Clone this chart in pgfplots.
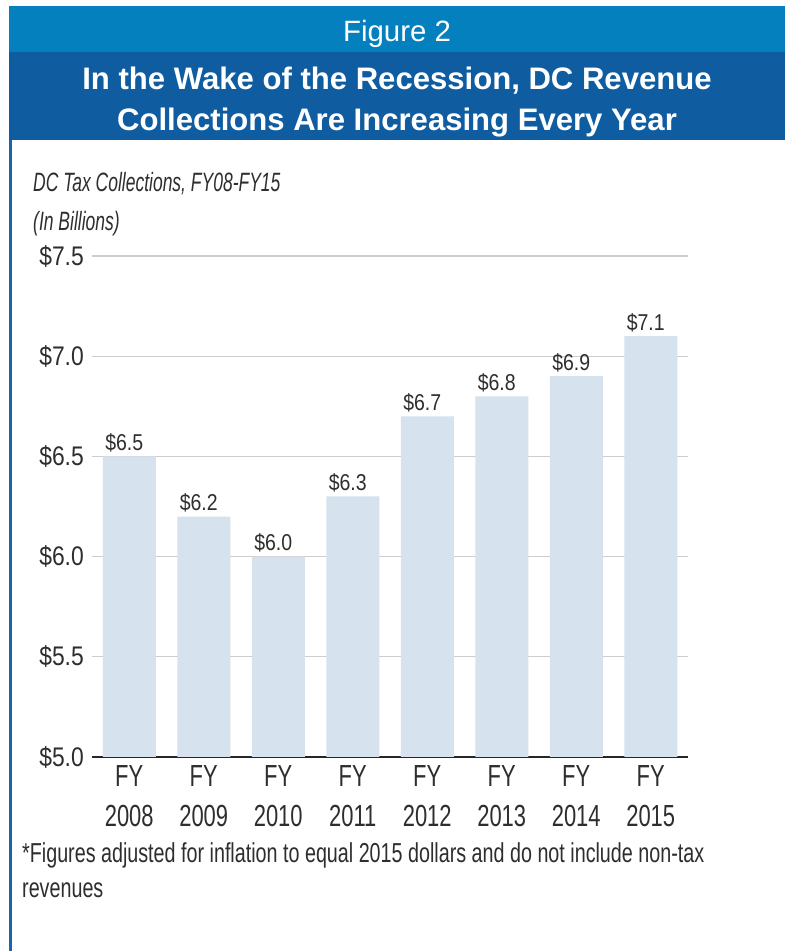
\documentclass[border=0pt]{standalone}
\usepackage{fontspec}
\usepackage{pgfplots}
\pgfplotsset{compat=1.18}
\newfontfamily\headfont{Liberation Sans}
\newfontfamily\chartfont[FakeStretch=0.72]{Liberation Sans}
\newfontfamily\titlefont[FakeStretch=0.66]{Liberation Sans}
\newfontfamily\numfont[FakeStretch=0.85]{Liberation Sans}
\definecolor{bandlight}{HTML}{0580BE}
\definecolor{banddark}{HTML}{0F5DA0}
\definecolor{borderc}{HTML}{1A63AE}
\definecolor{barfill}{HTML}{D6E2EE}
\definecolor{gridc}{HTML}{CDCDCD}
\definecolor{txt}{HTML}{2E2E2E}
\begin{document}
\begin{tikzpicture}
\path[use as bounding box, fill=white] (0,0) rectangle (785bp,951bp);
\fill[bandlight] (9bp,899bp) rectangle (785bp,945bp);
\fill[banddark] (9bp,811bp) rectangle (785bp,899bp);
\fill[borderc] (9bp,0bp) rectangle (12bp,811bp);
\node[anchor=base, inner sep=0pt, text=white, font=\headfont\fontsize{29.5}{34}\selectfont] at (397bp,909bp) {Figure 2};
\node[anchor=base, inner sep=0pt, text=white, font=\headfont\bfseries\fontsize{31.2}{36}\selectfont] at (397bp,861bp) {In the Wake of the Recession, DC Revenue};
\node[anchor=base, inner sep=0pt, text=white, font=\headfont\bfseries\fontsize{31.2}{36}\selectfont] at (397bp,820bp) {Collections Are Increasing Every Year};
\node[anchor=base west, inner sep=0pt, text=txt, font=\titlefont\itshape\fontsize{26.6}{30}\selectfont] at (33bp,759bp) {DC Tax Collections, FY08-FY15};
\node[anchor=base west, inner sep=0pt, text=txt, font=\titlefont\itshape\fontsize{26.6}{30}\selectfont] at (33bp,720bp) {(In Billions)};
\node[anchor=base west, inner sep=0pt, text=txt, font=\chartfont\fontsize{27.5}{35}\selectfont] at (22bp,88bp) {*Figures adjusted for inflation to equal 2015 dollars and do not include non-tax};
\node[anchor=base west, inner sep=0pt, text=txt, font=\chartfont\fontsize{27.5}{35}\selectfont] at (22bp,53bp) {revenues};
\begin{axis}[
  at={(92bp,194bp)}, anchor=south west,
  scale only axis, width=596bp, height=501bp,
  xmin=-0.5, xmax=7.5, ymin=5, ymax=7.5,
  ybar, bar width=53bp,
  axis lines*=left,
  y axis line style={draw=none},
  x axis line style={draw=black!85, line width=1.5bp},
  major tick length=0pt,
  ymajorgrids, grid style={gridc, line width=1.2bp},
  xtick={0,1,2,3,4,5,6,7},
  xticklabels={{FY\\2008},{FY\\2009},{FY\\2010},{FY\\2011},{FY\\2012},{FY\\2013},{FY\\2014},{FY\\2015}},
  xticklabel style={align=center, inner sep=0pt, yshift=-8bp, text=txt, font=\chartfont\fontsize{30.6}{40}\selectfont},
  ytick={5,5.5,6,6.5,7,7.5},
  yticklabel={\$\pgfmathprintnumber[fixed,fixed zerofill,precision=1]{\tick}},
  yticklabel style={inner sep=0pt, xshift=-8bp, text=txt, font=\numfont\fontsize{27}{30}\selectfont},
  /pgf/number format/assume math mode=true,
  nodes near coords={\$\pgfmathprintnumber[fixed,fixed zerofill,precision=1]{\pgfplotspointmeta}},
  nodes near coords style={anchor=base, inner sep=0pt, yshift=6bp, xshift=-5bp, text=txt, font=\numfont\fontsize{23}{26}\selectfont},
]
\addplot[fill=barfill, draw=none] coordinates {(0,6.5) (1,6.2) (2,6.0) (3,6.3) (4,6.7) (5,6.8) (6,6.9) (7,7.1)};
\end{axis}
\end{tikzpicture}
\end{document}
